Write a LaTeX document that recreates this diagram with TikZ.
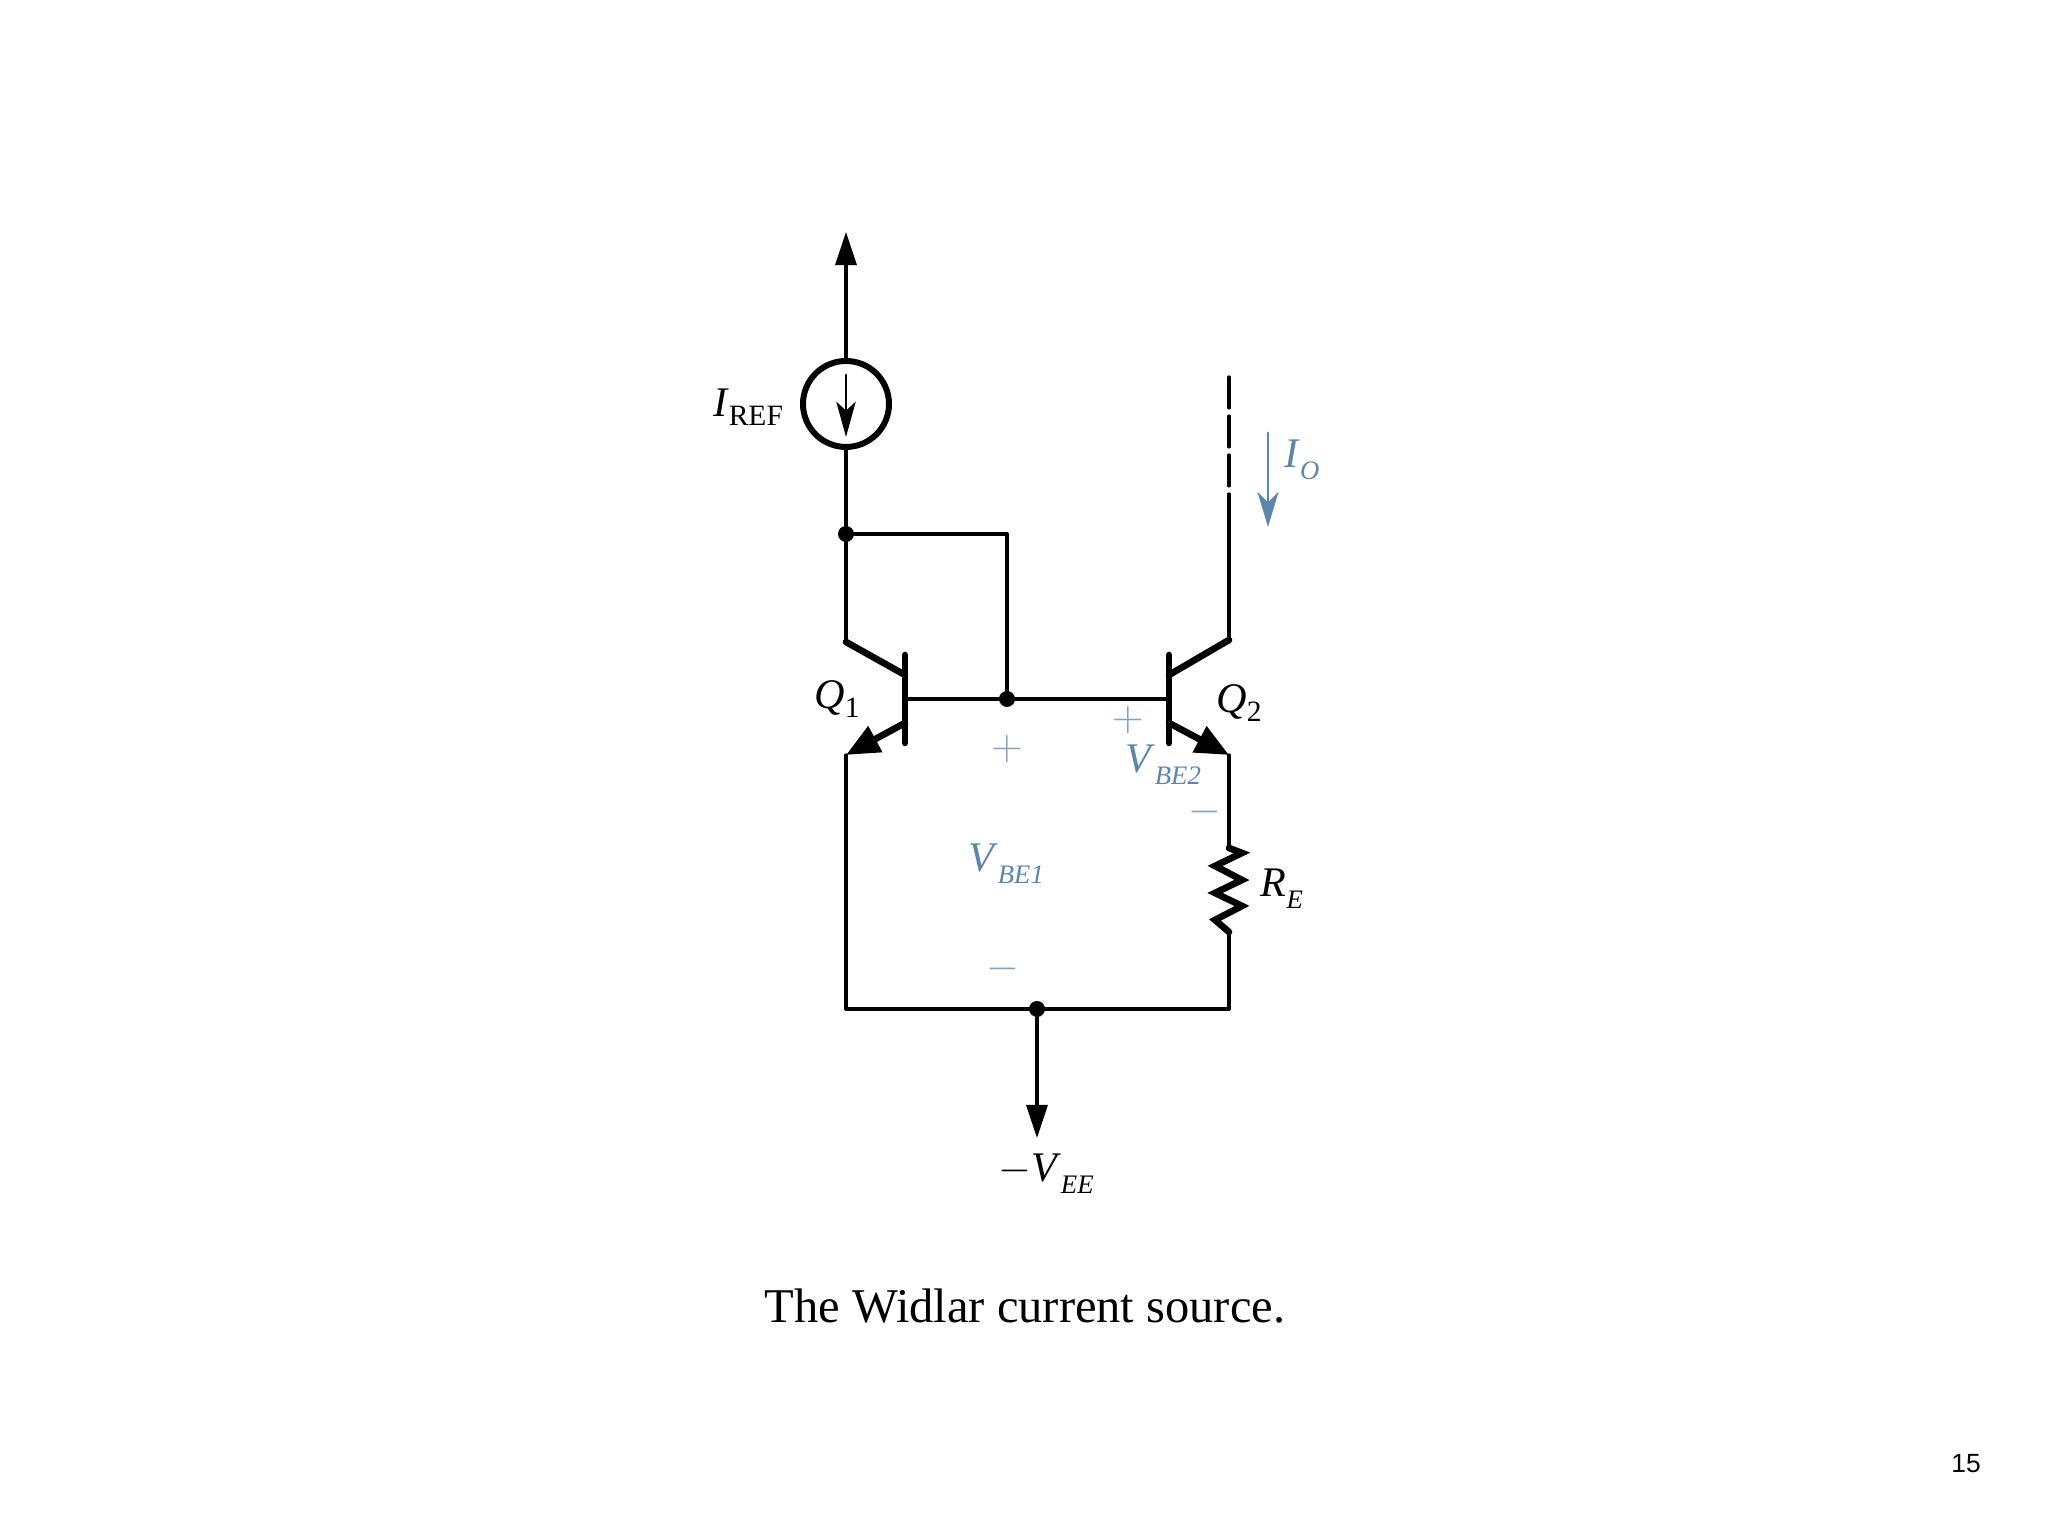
\documentclass[tikz,border=0pt]{standalone}
\usepackage{amsmath}
\usepackage{fontspec}
\usepackage{tikz}
\usepackage{tkz-euclide}
\usepackage{xcolor}
\usetikzlibrary{arrows.meta}
\setmainfont{Liberation Serif}
\newfontfamily\slidefont{Liberation Sans}
\definecolor{voltblue}{HTML}{5C86AC}
\newcommand{\subLabel}[2]{\textit{#1}\raisebox{-.22em}{\fontsize{8.4}{9}\selectfont #2}}
\newcommand{\subItalic}[2]{\textit{#1}\raisebox{-.28em}{\fontsize{7.6}{9}\selectfont\itshape #2}}
\tikzset{
wire/.style={line width=0.9pt, black},
thickWire/.style={line width=1.9pt, black},
flowUp/.style={line width=0.9pt, black, -{Stealth[length=9.4pt, width=6pt, inset=0pt]}},
emitterTip/.style={thickWire, -{Stealth[length=9.5pt, width=8pt, inset=0pt]}},
srcTip/.style={line width=0.8pt, black, -{Stealth[length=10pt, width=5.5pt, inset=2.5pt]}},
ioTip/.style={line width=0.85pt, voltblue, -{Stealth[length=10pt, width=6pt, inset=3pt]}},
lbl/.style={font=\fontsize{12}{14}\selectfont, inner sep=0pt},
voltLbl/.style={lbl, text=voltblue},
signLbl/.style={lbl, text=voltblue!75}
}

\begin{document}
\begin{tikzpicture}
    \useasboundingbox (0,0) rectangle (20.48,15.34);

    \tkzDefPoint(8.46,13.02){i_1}
    \tkzDefPoint(8.46,11.30){s_0}
    \tkzDefPoint(8.46,10.87){s_1}
    \tkzDefPoint(8.46,11.73){s_4}
    \tkzDefPoint(8.46,11.59){s_2}
    \tkzDefPoint(8.46,10.97){s_3}
    \tkzDefPoint(8.46,10.00){j_1}
    \tkzDefPoint(10.07,10.00){j_2}
    \tkzDefPoint(10.07,8.35){j_3}
    \tkzDrawCircle[line width=1.7pt, black](s_0,s_1)
    \tkzDrawSegment[flowUp](s_4,i_1)
    \tkzDrawSegment[srcTip](s_2,s_3)

    \tkzDefPoint(8.46,8.92){a_1}
    \tkzDefPoint(9.05,8.59){a_2}
    \tkzDefPoint(9.05,8.79){a_3}
    \tkzDefPoint(9.05,7.91){a_4}
    \tkzDefPoint(9.05,8.35){a_5}
    \tkzDefPoint(9.05,8.11){a_6}
    \tkzDefPoint(8.46,7.79){a_7}
    \tkzDefPoint(8.46,5.25){a_8}
    \tkzDrawSegments[wire](s_1,a_1 j_1,j_2 j_2,j_3 a_5,j_3 a_7,a_8)
    \tkzDrawSegments[thickWire](a_1,a_2 a_3,a_4)
    \tkzDrawSegment[emitterTip](a_6,a_7)

    \tkzDefPoint(12.29,11.57){b_0}
    \tkzDefPoint(12.29,10.48){b_9}
    \tkzDefPoint(12.29,10.40){b_10}
    \tkzDefPoint(12.29,8.94){b_1}
    \tkzDefPoint(11.69,8.59){b_2}
    \tkzDefPoint(11.69,8.79){b_3}
    \tkzDefPoint(11.69,7.91){b_4}
    \tkzDefPoint(11.69,8.35){b_5}
    \tkzDefPoint(11.69,8.11){b_6}
    \tkzDefPoint(12.29,7.79){b_7}
    \tkzDefPoint(12.29,5.25){b_8}
    \tkzDrawSegment[wire, dash pattern=on 0.31cm off 0.08cm](b_0,b_9)
    \tkzDrawSegments[wire](b_10,b_1 b_5,j_3)
    \tkzDrawSegments[thickWire](b_1,b_2 b_3,b_4)
    \tkzDrawSegment[emitterTip](b_6,b_7)

    \tkzDefPoint(12.29,6.86){r_1}
    \tkzDefPoint(12.42,6.81){r_2}
    \tkzDefPoint(12.15,6.68){r_3}
    \tkzDefPoint(12.42,6.54){r_4}
    \tkzDefPoint(12.15,6.41){r_5}
    \tkzDefPoint(12.42,6.28){r_6}
    \tkzDefPoint(12.15,6.14){r_7}
    \tkzDefPoint(12.29,6.02){r_8}
    \tkzDrawSegments[wire](b_7,r_1 r_8,b_8 a_8,b_8)
    \tkzDrawPolySeg[thickWire](r_1,r_2,r_3,r_4,r_5,r_6,r_7,r_8)

    \tkzDefPoint(10.37,5.25){v_1}
    \tkzDefPoint(10.37,3.96){v_2}
    \tkzDrawSegment[flowUp](v_1,v_2)

    \tkzDefPoint(12.68,11.01){o_1}
    \tkzDefPoint(12.68,10.07){o_2}
    \tkzDrawSegment[ioTip](o_1,o_2)

    \fill (j_1) circle (0.08);
    \fill (j_3) circle (0.08);
    \fill (v_1) circle (0.08);

    \node[lbl] (iref) at (7.48,11.27) {\subLabel{I}{REF}};
    \node[voltLbl] (io) at (13.02,10.74) {\subItalic{I}{O}};
    \node[lbl] (q1) at (8.37,8.35) {\subLabel{Q}{1}};
    \node[lbl] (q2) at (12.39,8.31) {\subLabel{Q}{2}};
    \node[lbl] (re) at (12.82,6.45) {\subItalic{R}{E}};
    \node[lbl] (vee) at (10.46,3.6) {$-$\subItalic{V}{EE}};
    \node[voltLbl] (vbe1) at (10.06,6.70) {\subItalic{V}{BE1}};
    \node[voltLbl] (vbe2) at (11.63,7.69) {\subItalic{V}{BE2}};
    \node[signLbl] (p1) at (10.07,7.85) {$+$};
    \node[signLbl] (p2) at (11.28,8.14) {$+$};
    \node[signLbl] (m1) at (10.03,5.65) {$-$};
    \node[signLbl] (m2) at (12.05,7.22) {$-$};

    \node[inner sep=0pt, font=\fontsize{13.8}{16}\selectfont] (caption) at (10.25,2.28) {The Widlar current source.};
    \node[inner sep=0pt, font=\slidefont\fontsize{7.5}{9}\selectfont] (pagenum) at (19.66,0.70) {15};
\end{tikzpicture}
\end{document}
